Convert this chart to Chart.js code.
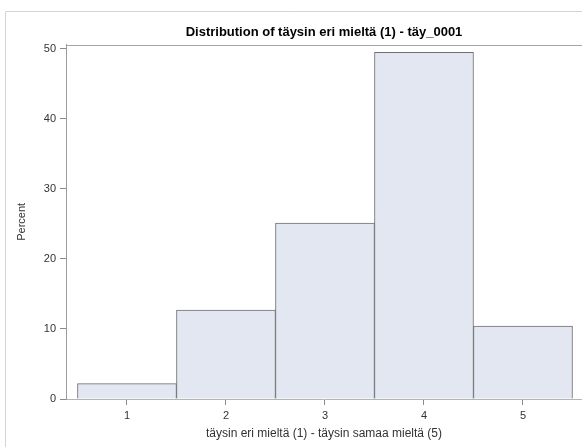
<!DOCTYPE html>
<html>
<head>
<meta charset="utf-8">
<script src="https://cdn.jsdelivr.net/npm/chart.js@4"></script>
<style>
html,body{margin:0;padding:0;background:#fff;overflow:hidden;}
#wrap{position:relative;width:582px;height:447px;}
</style>
</head>
<body>
<div id="wrap"><canvas id="c" width="582" height="447"></canvas></div>
<script>
const categories = [1, 2, 3, 4, 5];
const percentValues = [2.2, 12.7, 25.1, 49.5, 10.4];
const yTickValues = [0, 10, 20, 30, 40, 50];
const xTickValues = [1, 2, 3, 4, 5];
const chartTitle = 'Distribution of täysin eri mieltä (1) - täy_0001';
const xTitle = 'täysin eri mieltä (1) - täysin samaa mieltä (5)';
const yTitle = 'Percent';

const FONT = "'Liberation Sans', Arial, sans-serif";

const framePlugin = {
  id: 'frame',
  beforeDraw(chart) {
    const ctx = chart.ctx;
    ctx.save();
    ctx.strokeStyle = '#d4d4d4';
    ctx.lineWidth = 1;
    ctx.beginPath();
    ctx.moveTo(5.5, 447);
    ctx.lineTo(5.5, 11.5);
    ctx.lineTo(582, 11.5);
    ctx.stroke();
    const a = chart.chartArea;
    ctx.strokeStyle = '#a6a6a6';
    ctx.beginPath();
    ctx.moveTo(a.left, Math.round(a.top) + 0.5);
    ctx.lineTo(582, Math.round(a.top) + 0.5);
    ctx.stroke();
    ctx.restore();
  }
};

new Chart(document.getElementById('c'), {
  type: 'bar',
  data: {
    datasets: [{
      data: categories.map((c, i) => ({ x: c, y: percentValues[i] })),
      backgroundColor: '#e3e7f1',
      borderColor: '#6f6f6f',
      borderWidth: 1,
      barPercentage: 1,
      categoryPercentage: 1
    }]
  },
  options: {
    responsive: false,
    animation: false,
    layout: { padding: { left: 0, right: 0, top: 0, bottom: 0 } },
    plugins: {
      legend: { display: false },
      tooltip: { enabled: false },
      title: {
        display: true,
        text: chartTitle,
        fullSize: false,
        color: '#000',
        font: { family: FONT, size: 13, weight: 'bold', lineHeight: 1.2 },
        padding: { top: 25, bottom: 4 }
      }
    },
    scales: {
      x: {
        type: 'linear',
        min: 0.384,
        max: 5.596,
        offset: false,
        afterBuildTicks(scale) { scale.ticks = xTickValues.map(v => ({ value: v })); },
        afterFit(scale) { scale.height = 48; },
        ticks: { color: '#333', font: { family: FONT, size: 11 }, padding: 4, autoSkip: false, maxRotation: 0,
          callback: v => String(v) },
        grid: { offset: false, drawOnChartArea: false, drawTicks: true, tickLength: 6, color: '#8a8a8a' },
        border: { color: '#b4b4b4', width: 1 },
        title: { display: true, text: xTitle, color: '#333', font: { family: FONT, size: 12 }, padding: { top: 2, bottom: 6 } }
      },
      y: {
        min: 0,
        max: 50.6,
        afterBuildTicks(scale) { scale.ticks = yTickValues.map(v => ({ value: v })); },
        afterFit(scale) { scale.width = 66; },
        ticks: { color: '#333', font: { family: FONT, size: 11 }, padding: 4 },
        grid: { drawOnChartArea: false, drawTicks: true, tickLength: 6, color: '#8a8a8a' },
        border: { color: '#9c9c9c', width: 1 },
        title: { display: true, text: yTitle, color: '#333', font: { family: FONT, size: 11 }, padding: { top: 15, bottom: 0 } }
      }
    }
  },
  plugins: [framePlugin]
});
</script>
</body>
</html>
